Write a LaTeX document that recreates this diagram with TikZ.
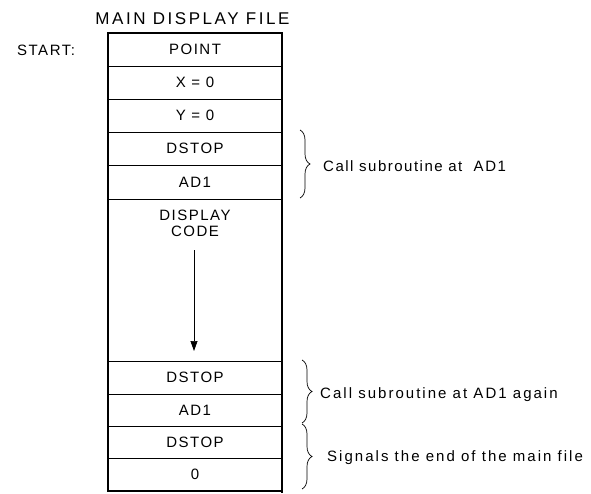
\documentclass[tikz,border=0pt]{standalone}
\usepackage{fontspec}
\setmainfont{Liberation Sans}
\newfontfamily\rowfont[LetterSpace=10]{Liberation Sans}
\newfontfamily\notefont[LetterSpace=13.5]{Liberation Sans}
\newfontfamily\titlefont[LetterSpace=15]{Liberation Sans}
\usetikzlibrary{decorations.pathreplacing,arrows.meta}

\begin{document}
\begin{tikzpicture}[x=1pt,y=-1pt,
  cell/.style={draw, line width=0.8pt, minimum width=174pt, inner sep=0pt,
    font=\rowfont\fontsize{15}{16}\selectfont},
  label/.style={inner sep=0pt, font=\rowfont\fontsize{15}{16}\selectfont},
  note/.style={anchor=west, inner sep=0pt, font=\notefont\fontsize{15}{16}\selectfont},
  curly/.style={decorate, decoration={brace, amplitude=10pt}, line width=0.7pt},
  frame/.style={line width=2pt}]

\useasboundingbox (0,0) rectangle (591,494);

% title and entry label
\node[inner sep=0pt, font=\titlefont\fontsize{17}{18}\selectfont] (title) at (192.5,19) {MAIN DISPLAY FILE};
\node[label, anchor=west] (start) at (17,50) {START:};

% rows of the display file
\node[cell, minimum height=33pt] (point)  at (195,49.5)  {POINT};
\node[cell, minimum height=33pt] (xrow)   at (195,82.5)  {X = 0};
\node[cell, minimum height=33pt] (yrow)   at (195,115.5) {Y = 0};
\node[cell, minimum height=33pt] (stopa)  at (195,148.5) {DSTOP};
\node[cell, minimum height=34pt] (ada)    at (195,182)   {AD1};
\node[cell, minimum height=162pt] (code)  at (195,280)   {};
\node[label, align=center, anchor=north] (codetext) at (195,210) {DISPLAY\\CODE};
\node[cell, minimum height=33pt] (stopb)  at (195,377.5) {DSTOP};
\node[cell, minimum height=32pt] (adb)    at (195,410)   {AD1};
\node[cell, minimum height=32pt] (stopc)  at (195,442)   {DSTOP};
\node[cell, minimum height=33pt] (zero)   at (195,474.5) {0};

% outer frame
\draw[frame] (point.north west) rectangle (zero.south east);
\draw[frame] (zero.south east) -- ++(0,2);

% flow through the display code
\coordinate (flowtop) at (194,250);
\coordinate (flowend) at (194,351);
\draw[line width=0.7pt, -{Triangle[width=7pt,length=10pt]}] (flowtop) -- (flowend);

% braces and notes
\draw[curly] (300,130) -- (300,198);
\node[note, font=\rowfont\fontsize{15}{16}\selectfont] (notea) at (323,166) {Call subroutine at\ \ AD1};

\draw[curly] (302,360) -- (302,423);
\node[note] (noteb) at (320,395) {Call subroutine at AD1 again};

\draw[curly] (302,424) -- (302,489);
\node[note] (notec) at (327,458) {Signals the end of the main file};
\end{tikzpicture}
\end{document}
